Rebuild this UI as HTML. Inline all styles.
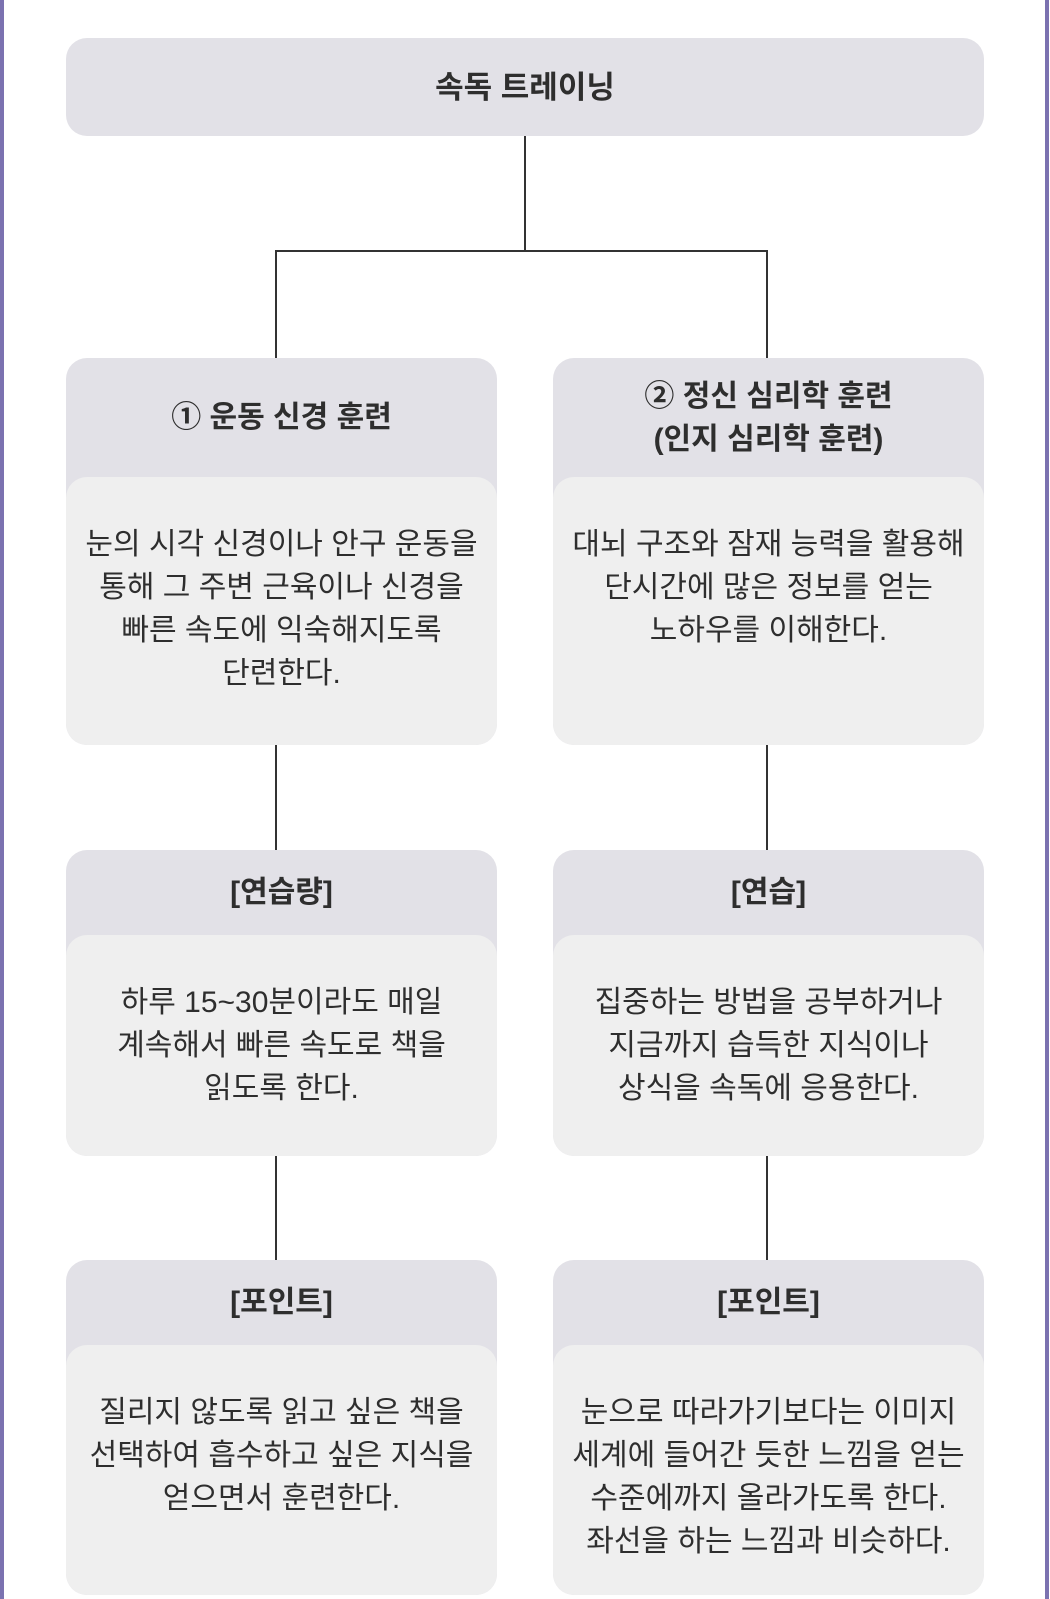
<!DOCTYPE html>
<html><head><meta charset="utf-8"><style>
body{margin:0;width:1050px;height:1599px;background:#fff;position:relative;overflow:hidden;font-family:"Liberation Sans","Noto Sans CJK KR",sans-serif;color:#2e2e2e}
.bl{position:absolute;left:0;top:0;width:4px;height:1599px;background:#7b72b0}
.br{position:absolute;left:1045px;top:0;width:4px;height:1599px;background:#7b72b0}
.box{position:absolute;background:#e2e1e7;border-radius:21px;overflow:hidden}
.hd{position:absolute;left:0;right:0;display:flex;align-items:center;justify-content:center;text-align:center;font-weight:bold;font-size:30px;line-height:43px}
.bd{position:absolute;left:0;right:0;bottom:0;background:#efefef;border-radius:21px;text-align:center;font-size:30px;line-height:43px;padding-top:46px;box-sizing:border-box;white-space:nowrap}
.l{position:absolute;background:#333}
</style></head><body>
<div class="bl"></div><div class="br"></div>
<div class="box" style="left:66px;top:38px;width:918px;height:98px"><div class="hd" style="top:0;bottom:0;font-size:31px">속독 트레이닝</div></div>
<div class="l" style="left:524px;top:136px;width:2px;height:116px"></div>
<div class="l" style="left:275px;top:250px;width:493px;height:2px"></div>
<div class="l" style="left:275px;top:250px;width:2px;height:108px"></div>
<div class="l" style="left:766px;top:250px;width:2px;height:108px"></div>

<div class="box" style="left:66px;top:358px;width:431px;height:387px"><div class="hd" style="top:0;height:119px">① 운동 신경 훈련</div><div class="bd" style="top:119px">눈의 시각 신경이나 안구 운동을<br>통해 그 주변 근육이나 신경을<br>빠른 속도에 익숙해지도록<br>단련한다.</div></div>
<div class="box" style="left:553px;top:358px;width:431px;height:387px"><div class="hd" style="top:0;height:119px">② 정신 심리학 훈련<br>(인지 심리학 훈련)</div><div class="bd" style="top:119px">대뇌 구조와 잠재 능력을 활용해<br>단시간에 많은 정보를 얻는<br>노하우를 이해한다.</div></div>
<div class="l" style="left:275px;top:745px;width:2px;height:105px"></div>
<div class="l" style="left:766px;top:745px;width:2px;height:105px"></div>

<div class="box" style="left:66px;top:850px;width:431px;height:306px"><div class="hd" style="top:0;height:85px">[연습량]</div><div class="bd" style="top:85px">하루 15~30분이라도 매일<br>계속해서 빠른 속도로 책을<br>읽도록 한다.</div></div>
<div class="box" style="left:553px;top:850px;width:431px;height:306px"><div class="hd" style="top:0;height:85px">[연습]</div><div class="bd" style="top:85px">집중하는 방법을 공부하거나<br>지금까지 습득한 지식이나<br>상식을 속독에 응용한다.</div></div>
<div class="l" style="left:275px;top:1156px;width:2px;height:104px"></div>
<div class="l" style="left:766px;top:1156px;width:2px;height:104px"></div>

<div class="box" style="left:66px;top:1260px;width:431px;height:335px"><div class="hd" style="top:0;height:85px">[포인트]</div><div class="bd" style="top:85px">질리지 않도록 읽고 싶은 책을<br>선택하여 흡수하고 싶은 지식을<br>얻으면서 훈련한다.</div></div>
<div class="box" style="left:553px;top:1260px;width:431px;height:335px"><div class="hd" style="top:0;height:85px">[포인트]</div><div class="bd" style="top:85px">눈으로 따라가기보다는 이미지<br>세계에 들어간 듯한 느낌을 얻는<br>수준에까지 올라가도록 한다.<br>좌선을 하는 느낌과 비슷하다.</div></div>
</body></html>
